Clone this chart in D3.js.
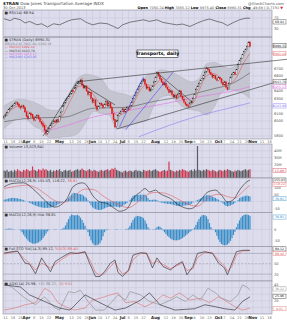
<!DOCTYPE html>
<html>
<head>
<meta charset="utf-8">
<script src="https://cdn.jsdelivr.net/npm/d3@7"></script>
<style>
body { margin: 0; background: #fff; }
svg text { font-family: "DejaVu Sans", sans-serif; }
</style>
</head>
<body>
<svg id="chart" width="287" height="320"></svg>
<script>
// ---- daily price data, 8-Mar-2013 .. 30-Oct-2013 ----
const closes = [
  6060,6080,6110,6150,6170,6190,6210,6230,6240,6220,
  6190,6170,6200,6180,6120,6060,6030,6100,6080,6040,
  6010,6050,6070,6030,5990,5960,5930,5880,5830,5860,
  5900,5940,5970,6000,5980,6010,5990,6060,6120,6200,
  6240,6280,6300,6330,6360,6400,6390,6440,6470,6500,
  6520,6540,6480,6440,6460,6400,6350,6380,6300,6250,
  6280,6200,6150,6190,6230,6210,6180,6220,6260,6200,
  6240,6180,6100,6020,5920,6000,6070,6100,6130,6160,
  6120,6150,6180,6150,6200,6250,6300,6340,6380,6420,
  6460,6500,6530,6550,6490,6430,6450,6400,6420,6460,
  6520,6580,6640,6600,6560,6520,6480,6500,6450,6420,
  6380,6400,6350,6320,6340,6300,6360,6400,6330,6290,
  6250,6220,6200,6190,6240,6260,6300,6350,6420,6460,
  6500,6540,6560,6600,6650,6700,6680,6640,6620,6580,
  6600,6560,6540,6580,6560,6510,6480,6520,6450,6420,
  6500,6580,6620,6640,6620,6680,6750,6800,6830,6880,
  6920,6950,6990,7040,6990
];
const opens = [
  6040,6065,6085,6110,6155,6170,6195,6210,6235,6245,
  6225,6190,6175,6205,6180,6120,6065,6035,6100,6085,
  6040,6015,6050,6075,6030,5990,5965,5935,5880,5835,
  5860,5900,5940,5975,6000,5985,6015,5995,6060,6125,
  6200,6240,6285,6300,6335,6360,6405,6390,6440,6470,
  6505,6520,6545,6480,6440,6460,6400,6350,6380,6300,
  6250,6280,6200,6150,6190,6235,6210,6180,6220,6260,
  6200,6240,6180,6100,6020,5925,6000,6070,6100,6135,
  6160,6120,6150,6180,6150,6200,6250,6300,6340,6380,
  6420,6460,6500,6530,6550,6490,6430,6450,6400,6420,
  6460,6520,6580,6640,6600,6560,6520,6480,6500,6450,
  6420,6380,6400,6350,6320,6340,6300,6360,6400,6330,
  6290,6250,6220,6200,6190,6240,6260,6300,6350,6420,
  6460,6500,6540,6560,6600,6650,6700,6680,6640,6620,
  6580,6600,6560,6540,6580,6560,6510,6480,6520,6450,
  6420,6500,6580,6620,6640,6620,6680,6750,6800,6830,
  6880,6920,6950,6990,7050
];
const highs = [
  6080,6100,6125,6160,6185,6205,6225,6245,6265,6255,
  6235,6200,6215,6215,6190,6130,6080,6115,6120,6095,
  6055,6065,6090,6085,6045,6000,5975,5945,5895,5880,
  5915,5955,5985,6015,6020,6025,6030,6075,6135,6210,
  6255,6295,6320,6345,6375,6415,6420,6455,6485,6515,
  6540,6560,6575,6495,6475,6470,6410,6395,6390,6315,
  6300,6290,6210,6205,6245,6250,6225,6235,6275,6270,
  6255,6250,6190,6105,6030,6015,6085,6115,6145,6175,
  6170,6165,6195,6190,6215,6265,6315,6355,6395,6435,
  6475,6515,6545,6570,6560,6500,6465,6460,6435,6475,
  6535,6595,6655,6650,6610,6570,6530,6515,6510,6460,
  6430,6415,6410,6360,6355,6350,6375,6415,6410,6340,
  6300,6260,6235,6230,6255,6275,6315,6365,6435,6475,
  6515,6555,6575,6615,6665,6720,6710,6690,6655,6630,
  6615,6610,6575,6595,6590,6570,6520,6535,6530,6460,
  6515,6595,6635,6655,6650,6695,6765,6815,6845,6895,
  6935,6965,7005,7060,7065
];
const lows = [
  6020,6050,6070,6100,6140,6160,6180,6200,6215,6205,
  6170,6150,6165,6165,6105,6045,6010,6025,6060,6025,
  5990,6000,6040,6015,5975,5940,5910,5860,5800,5815,
  5845,5890,5930,5960,5965,5975,5975,5990,6055,6115,
  6190,6230,6270,6290,6320,6350,6375,6380,6430,6460,
  6490,6510,6470,6420,6425,6385,6330,6340,6285,6230,
  6235,6180,6130,6140,6180,6195,6165,6170,6210,6185,
  6190,6165,6085,6000,5900,5910,5995,6060,6090,6120,
  6105,6110,6140,6135,6145,6195,6245,6290,6330,6370,
  6410,6450,6490,6520,6475,6415,6420,6385,6390,6410,
  6455,6515,6575,6585,6545,6505,6465,6470,6435,6405,
  6365,6370,6335,6305,6310,6285,6295,6350,6315,6275,
  6235,6205,6185,6170,6185,6230,6255,6295,6345,6410,
  6450,6490,6530,6550,6590,6640,6665,6625,6605,6565,
  6570,6545,6525,6530,6545,6495,6465,6470,6435,6400,
  6415,6495,6570,6610,6605,6615,6675,6745,6790,6825,
  6870,6910,6940,6985,6975
];
// volume, millions of shares
const volumes = [
  11,10,12,9,10,11,9,12,10,13, 11,10,9,12,11,13,12,10,11,17,
  12,11,10,13,12,11,14,12,13,11, 10,12,9,11,10,12,11,13,10,9,
  11,12,10,11,12,9,10,11,12,13, 11,12,14,12,11,10,12,13,11,10,
  12,11,10,9,11,12,10,11,12,13, 11,12,14,13,15,12,11,10,9,8,
  10,11,9,10,11,10,9,11,12,10, 11,10,9,12,11,10,11,12,10,11,
  12,13,11,10,9,10,11,12,10,11, 24,12,11,10,9,11,10,12,11,13,
  12,11,10,9,11,12,10,13,11,47, 12,11,10,12,11,13,12,11,10,12,
  11,10,9,11,12,11,10,12,11,13, 12,11,10,9,11,10,12,11,10,11,
  12,13,11,12,13
];

// ---- overlays, [bar, value] ----
const ma10 = [[0,6080],[5,6150],[10,6200],[15,6140],[20,6060],[25,6020],[30,5900],[35,5960],[40,6100],
  [45,6300],[50,6460],[55,6470],[60,6340],[65,6220],[70,6220],[75,6080],[80,6100],[85,6180],[90,6380],
  [95,6480],[100,6470],[105,6560],[110,6450],[115,6350],[120,6310],[125,6220],[130,6400],[135,6600],
  [140,6630],[145,6560],[150,6490],[155,6580],[160,6780],[164,6900]];
const ma50 = [[0,5990],[20,6040],[40,6050],[60,6170],[80,6180],[100,6260],[120,6330],[140,6430],[150,6480],[164,6640]];
const ma100 = [[25,5860],[35,5900],[60,6054],[85,6147],[110,6241],[130,6321],[150,6388],[164,6455]];
const ma200 = [[90,5790],[110,5940],[130,6070],[150,6170],[164,6241]];
const bollinger = [ // [bar, upper, lower]
  [0,6200,5900],[5,6260,5980],[10,6290,6040],[15,6280,6020],[20,6250,5930],[25,6200,5880],[30,6150,5780],
  [35,6140,5780],[40,6240,5790],[45,6420,5800],[50,6580,5850],[55,6620,6000],[60,6600,6130],[65,6560,6100],
  [70,6420,6080],[75,6380,5900],[80,6360,5900],[85,6330,5960],[90,6470,5980],[95,6600,6000],[100,6640,6200],
  [105,6680,6320],[110,6660,6340],[115,6620,6260],[120,6560,6180],[125,6520,6150],[130,6560,6130],
  [135,6760,6080],[140,6780,6180],[145,6740,6380],[150,6700,6420],[155,6740,6400],[160,6880,6360],[164,7060,6300]];
const trendLines = [ // [bar, price] pairs
  {a:[49,6522], b:[188.7,6820], c:"#333"},
  {a:[75,5893], b:[188.7,6560], c:"#333"},
  {a:[26,5800], b:[49,6530], c:"#333"},
  {a:[49,6522], b:[74,6214], c:"#333"},
  {a:[102,6642], b:[126,6241], c:"#333"},
  {a:[77,5920], b:[93,6589], c:"#4646ff"},
  {a:[81,5880], b:[113,6655], c:"#4646ff"}
];

// ---- indicators, [bar, value] ----
const rsi = [[0,67],[4,60],[7,69],[11,63],[14,51],[17,57],[22,44],[25,48],[29,36],[33,48],[37,44],[42,57],
  [45,63],[51,67],[55,53],[59,44],[64,51],[69,48],[73,38],[76,30],[79,44],[84,54],[89,59],[93,63],[97,57],
  [102,63],[106,53],[111,48],[115,44],[119,47],[124,38],[129,51],[133,60],[137,66],[142,57],[146,51],
  [149,41],[153,53],[157,63],[161,69],[164,69]];
const macd = [[0,106],[6,131],[13,135],[19,94],[25,32],[31,-29],[34,-41],[39,-16],[42,21],[46,106],[52,135],
  [55,118],[59,45],[64,-4],[69,-16],[74,-53],[77,-71],[82,-53],[86,21],[91,69],[94,94],[97,69],[101,82],
  [104,57],[111,21],[117,-29],[124,-53],[127,-41],[131,8],[136,69],[141,82],[145,45],[149,-4],[153,13],
  [157,82],[162,143],[164,155]];
const signal = [[0,94],[7,108],[15,118],[22,95],[28,50],[34,5],[39,-10],[43,8],[48,50],[54,90],[60,85],
  [66,40],[72,0],[78,-30],[83,-45],[88,-15],[94,40],[100,65],[106,62],[112,40],[118,5],[124,-25],[129,-35],
  [134,5],[139,45],[144,52],[149,35],[154,25],[159,70],[164,118]];
const macdHist = [
  12,15,18,21,24,26,26,25,24,22, 20,17,14,10,5,0,-5,-10,-15,-20,
  -25,-30,-34,-38,-41,-43,-45,-46,-46,-46, -45,-44,-42,-38,-34,-28,-22,-16,-10,-4,
  2,8,16,26,38,50,60,62,60,57, 54,52,50,42,33,24,8,-10,-27,-43,
  -50,-55,-59,-62,-62,-60,-55,-50,-45,-41, -40,-39,-38,-37,-37,-38,-40,-44,-40,-32,
  -24,-18,-12,0,12,26,41,44,46,48, 49,49,49,49,49,40,25,11,11,12,
  13,13,10,4,-6,-9,-11,-13,-15,-17, -18,-19,-22,-25,-28,-31,-33,-34,-33,-31,
  -30,-28,-27,-26,-25,-16,-8,0,5,10, 16,21,27,34,40,45,47,44,40,35,
  30,25,18,12,5,-5,-15,-25,-32,-36, -33,-29,-24,-19,-10,0,10,24,29,34,
  38,41,43,40,37
];
const histPanel = [
  0,2,3,4,4,3,2,1,0,0,-1,
  -4,-12,-22,-32,-41,-49,-55,-59,-62,-63,-62,-60,-57,-52,-46,-38,-28,-18,-8,
  -3,0,0,1,2,1,0,0,2,4,8,
  18,32,46,58,66,64,62,63,65,60,52,42,30,16,
  3,-12,-30,-48,-60,-67,-70,-69,-66,-60,-48,-30,-12,
  -4,-2,-1,0,0,0,-1,-2,-1,0,1,0,0,2,3,6,
  16,30,42,52,58,60,59,57,55,50,40,26,10,
  3,0,1,2,4,
  10,14,12,6,
  -4,-12,-20,-28,-34,-40,-44,-47,-48,-48,-47,-45,-42,-38,-33,-27,-22,-16,-10,-5,-2,
  8,20,34,46,56,62,64,63,58,46,28,
  10,2,-1,
  -12,-28,-44,-56,-64,-68,-70,-69,-66,-60,-50,-38,-24,-10,
  10,26,40,52,60,64,66,66,64,60
];
const stochK = [[0,81],[4,84],[9,87],[14,52],[17,49],[21,21],[25,67],[31,27],[34,56],[39,70],[44,82],[49,80],
  [54,85],[57,52],[61,13],[64,13],[67,27],[71,52],[74,61],[76,25],[79,13],[83,32],[86,75],[91,82],[95,80],
  [99,38],[102,67],[106,42],[111,32],[115,47],[119,56],[122,18],[126,42],[129,80],[134,85],[139,80],[143,52],
  [147,38],[149,18],[152,52],[155,85],[159,89],[164,89]];
const stochD = [[0,78],[4,82],[9,86],[14,62],[17,52],[21,32],[25,52],[31,38],[34,48],[39,64],[44,78],[49,80],
  [54,83],[57,62],[61,25],[64,16],[67,22],[71,42],[74,55],[76,38],[79,20],[83,28],[86,62],[91,80],[95,81],
  [99,50],[102,58],[106,48],[111,36],[115,44],[119,52],[122,30],[126,36],[129,68],[134,83],[139,82],[143,60],
  [147,44],[149,28],[152,42],[155,75],[159,87],[164,88]];
const adx = [[0,44],[11,41],[17,29],[27,19],[37,9],[44,6],[54,29],[64,17],[74,6],[81,9],[91,21],[97,32],
  [104,14],[114,6],[127,8],[134,14],[141,11],[147,8],[154,6],[159,19],[164,26]];
const plusDI = [[0,46],[5,41],[14,24],[21,14],[27,26],[34,9],[37,6],[43,34],[47,32],[51,36],[56,19],[61,6],
  [67,6],[76,29],[81,21],[84,34],[91,29],[97,19],[104,14],[111,21],[115,26],[121,19],[126,29],[131,21],
  [136,39],[141,32],[145,24],[151,19],[156,29],[159,44],[162,41],[164,36]];
const minusDI = [[0,6],[7,9],[14,14],[21,17],[27,39],[31,34],[36,17],[41,11],[47,6],[54,9],[59,21],[64,24],
  [71,29],[76,32],[81,17],[87,19],[94,11],[101,19],[106,29],[111,24],[117,32],[124,21],[131,24],[137,17],
  [143,26],[147,21],[154,11],[159,6],[164,9]];

const priceTicks = [5800,5900,6000,6100,6200,6300,6400,6500,6600,6700,6800,6900,7000];
const holidays = ["2013-03-29","2013-05-27","2013-07-04","2013-09-02","2013-11-28"];
const monthNames = ["Jan","Feb","Mar","Apr","May","Jun","Jul","Aug","Sep","Oct","Nov","Dec"];

// ---- layout ----
const svg = d3.select("#chart");
const L = 3, R = 272;
const BG = "#dcdcec", GRID = "#c6c6da", BORDER = "#8a8a9a";
const RED = "#e01818", BLUE = "#3a8ec8";
const x = d3.scaleLinear().domain([-0.7, 178.7]).range([L, R]);

// trading days for the axis
const days = [];
for (let d = new Date(Date.UTC(2013, 2, 8)); days.length < 180; d.setUTCDate(d.getUTCDate() + 1)) {
  const wd = d.getUTCDay(), iso = d.toISOString().slice(0, 10);
  if (wd === 0 || wd === 6 || holidays.includes(iso)) continue;
  days.push(new Date(d));
}
const allTicks = [];
days.forEach((d, i) => {
  if (i === 0 || x(i) > R - 2) return;
  const prev = days[i - 1];
  if (d.getUTCMonth() !== prev.getUTCMonth()) allTicks.push({i, label: monthNames[d.getUTCMonth()], month: true});
  else if (d.getUTCDay() < prev.getUTCDay() || (d - prev) > 3 * 864e5) allTicks.push({i, label: String(d.getUTCDate()), month: false});
});
// drop weekly labels that sit too close to a month label
const weekTicks = allTicks.filter(t => t.month || !allTicks.some(m => m.month && Math.abs(m.i - t.i) < 4));

function panel(top, bottom, domain, hLines) {
  const y = d3.scaleLinear().domain(domain).range([bottom, top]);
  const g = svg.append("g");
  g.append("rect").attr("x", L).attr("y", top).attr("width", R - L).attr("height", bottom - top)
    .attr("fill", BG);
  g.selectAll(".vg").data(weekTicks).join("line")
    .attr("x1", d => x(d.i)).attr("x2", d => x(d.i)).attr("y1", top).attr("y2", bottom)
    .attr("stroke", GRID).attr("stroke-width", 0.5);
  g.selectAll(".hg").data(hLines || []).join("line")
    .attr("x1", L).attr("x2", R).attr("y1", d => y(d)).attr("y2", d => y(d))
    .attr("stroke", GRID).attr("stroke-width", 0.5);
  const id = "clip" + Math.round(top);
  svg.append("clipPath").attr("id", id).append("rect")
    .attr("x", L).attr("y", top).attr("width", R - L).attr("height", bottom - top);
  const inner = svg.append("g").attr("clip-path", `url(#${id})`);
  const frame = () => svg.append("rect").attr("x", L).attr("y", top).attr("width", R - L)
    .attr("height", bottom - top).attr("fill", "none").attr("stroke", BORDER).attr("stroke-width", 0.6);
  return {y, g, inner, frame, top, bottom};
}

function rightLabels(p, vals, fmt) {
  svg.append("g").selectAll("text").data(vals).join("text")
    .attr("x", R + 2).attr("y", d => p.y(d) + 1.4).attr("font-size", 3.6).attr("fill", "#555")
    .text(fmt || (d => d));
}
function valueBox(yPos, txt, color) {
  const g = svg.append("g");
  g.append("rect").attr("x", R + 1).attr("y", yPos - 2.1).attr("width", 13).attr("height", 4.2)
    .attr("fill", "#fff").attr("stroke", color).attr("stroke-width", 0.4);
  g.append("text").attr("x", R + 7.5).attr("y", yPos + 1.2).attr("text-anchor", "middle")
    .attr("font-size", 3.1).attr("fill", color).text(txt);
}
function legend(p, items, dy) {
  const t = svg.append("text").attr("x", L + 1.5).attr("y", p.top + (dy || 3.8)).attr("font-size", 3.6);
  items.forEach(([s, c]) => t.append("tspan").attr("fill", c).text(s));
}
const line = (y, curve) => d3.line().x(d => x(d[0])).y(d => y(d[1])).curve(curve || d3.curveLinear);
function dateRow(yPos) {
  svg.append("g").selectAll("text").data(weekTicks).join("text")
    .attr("x", d => x(d.i)).attr("y", yPos).attr("text-anchor", "middle")
    .attr("font-size", d => d.month ? 4 : 3.5).attr("font-weight", d => d.month ? "bold" : "normal")
    .attr("fill", d => d.month ? "#222" : "#666").text(d => d.label);
}

// ---- header ----
const h1 = svg.append("text").attr("x", 3).attr("y", 4.5).attr("font-size", 4.2);
h1.append("tspan").attr("font-weight", "bold").attr("fill", "#222").text("$TRAN ");
h1.append("tspan").attr("fill", "#444").text("Dow Jones Transportation Average  INDX");
svg.append("text").attr("x", 3).attr("y", 8.8).attr("font-size", 3.6).attr("fill", "#555").text("30-Oct-2013");
svg.append("text").attr("x", 284).attr("y", 4.5).attr("text-anchor", "end").attr("font-size", 3.8)
  .attr("fill", "#555").text("@StockCharts.com");
const h2 = svg.append("text").attr("x", 283).attr("y", 8.8).attr("text-anchor", "end").attr("font-size", 3.5);
[["Open ", "#000", "bold"], ["7050.24 ", "#555"], ["High ", "#000", "bold"], ["7065.12 ", "#555"],
 ["Low ", "#000", "bold"], ["6975.40 ", "#555"], ["Close ", "#000", "bold"], ["6990.31 ", "#555"],
 ["Chg ", "#000", "bold"], ["-49.69 (-0.71%) ", "#555"], ["\u25BC", RED]]
  .forEach(([s, c, w]) => h2.append("tspan").attr("fill", c).attr("font-weight", w || "normal").text(s));

// ---- RSI ----
const pRsi = panel(10, 36.5, [0, 100], [30, 70]);
pRsi.inner.append("path").attr("d", line(pRsi.y)(rsi)).attr("fill", "none").attr("stroke", "#333").attr("stroke-width", 0.6);
pRsi.frame();
legend(pRsi, [["\u25A0 RSI(14) 68.94", "#333"]]);
rightLabels(pRsi, [70, 30]);
valueBox(pRsi.y(55), "68.94", "#333");

// ---- price ----
const pPx = panel(37.5, 139, [5760, 7110], priceTicks);
const yp = pPx.y;
pPx.inner.append("path")
  .attr("d", d3.area().x(d => x(d[0])).y0(d => yp(d[2])).y1(d => yp(d[1])).curve(d3.curveMonotoneX)(bollinger))
  .attr("fill", "#bdbdc8").attr("opacity", 0.75);
pPx.inner.append("path").attr("d", line(yp, d3.curveMonotoneX)(bollinger.map(d => [d[0], d[1]])))
  .attr("fill", "none").attr("stroke", "#a8a8b4").attr("stroke-width", 0.4);
pPx.inner.append("path").attr("d", line(yp, d3.curveMonotoneX)(bollinger.map(d => [d[0], d[2]])))
  .attr("fill", "none").attr("stroke", "#a8a8b4").attr("stroke-width", 0.4);
[[ma200, "#8a7cf0"], [ma100, "#e070e0"], [ma50, "#555"], [ma10, "#e05a5a"]].forEach(([s, c]) =>
  pPx.inner.append("path").attr("d", line(yp, d3.curveMonotoneX)(s)).attr("fill", "none")
    .attr("stroke", c).attr("stroke-width", 0.6));
svg.append("g").selectAll("line").data(trendLines).join("line")
  .attr("x1", d => x(d.a[0])).attr("y1", d => yp(d.a[1])).attr("x2", d => x(d.b[0])).attr("y2", d => yp(d.b[1]))
  .attr("stroke", d => d.c).attr("stroke-width", 0.6);
const candles = pPx.inner.append("g").selectAll("g").data(closes.map((c, i) => i)).join("g");
const cColor = i => (i > 0 && closes[i] < closes[i - 1]) ? RED : "#222";
candles.append("line").attr("x1", i => x(i)).attr("x2", i => x(i))
  .attr("y1", i => yp(highs[i])).attr("y2", i => yp(lows[i])).attr("stroke", cColor).attr("stroke-width", 0.45);
candles.append("rect").attr("x", i => x(i) - 0.55).attr("width", 1.1)
  .attr("y", i => yp(Math.max(opens[i], closes[i])))
  .attr("height", i => Math.max(0.6, Math.abs(yp(opens[i]) - yp(closes[i]))))
  .attr("fill", i => closes[i] < opens[i] ? cColor(i) : "#fff").attr("stroke", cColor).attr("stroke-width", 0.3);
pPx.frame();
// annotation
svg.append("rect").attr("x", 137).attr("y", 50).attr("width", 41).attr("height", 7.5)
  .attr("fill", "#fff").attr("stroke", "#000").attr("stroke-width", 0.5);
svg.append("text").attr("x", 157.5).attr("y", 55.2).attr("text-anchor", "middle").attr("font-size", 4.6)
  .attr("font-weight", "bold").attr("fill", "#000").text("Transports, daily");
legend(pPx, [["\u25A0 $TRAN (Daily) 6990.31", "#333"]]);
[["BB(20,2.0) 7061.40, 6302.18", "#888"], ["\u2014 MA(10) 6902.44", "#e05a5a"], ["\u2014 MA(50) 6643.70", "#444"],
 ["\u2014 MA(100) 6455.17", "#e070e0"], ["\u2014 MA(200) 6243.95", "#7a6cf0"]]
  .forEach(([s, c], k) => svg.append("text").attr("x", L + 2).attr("y", pPx.top + 7.3 + k * 3.4)
    .attr("font-size", 3.2).attr("fill", c).text(s));
rightLabels(pPx, [5800, 6000, 6100, 6300, 6400, 6600, 6700]);
valueBox(yp(7000), "6990.31", "#222");
valueBox(yp(6895), "6902.44", "#e05a5a");
valueBox(yp(6520), "6643.70", "#444");
valueBox(yp(6455), "6455.17", "#d060d0");
valueBox(yp(6200), "6243.95", "#7a6cf0");

dateRow(142.6);

// ---- volume ----
const pVol = panel(144, 178, [0, 50], [10, 20, 30, 40]);
const bw = 1.2;
pVol.inner.selectAll("rect.v").data(volumes).join("rect")
  .attr("x", (d, i) => x(i) - bw / 2).attr("width", bw)
  .attr("y", d => pVol.y(d)).attr("height", d => pVol.y(0) - pVol.y(d))
  .attr("fill", (d, i) => (i > 0 && closes[i] < closes[i - 1]) ? "#d0384f" : "#5a5a60");
pVol.frame();
legend(pVol, [["\u25A0 Volume 13,023,841", "#333"]]);
rightLabels(pVol, [40, 30, 20], d => d + "M");
valueBox(pVol.y(11), "13.0M", "#d0384f");

// ---- MACD ----
const pMacd = panel(178, 212.5, [-80, 170], [0, 100]);
pMacd.inner.selectAll("rect.h").data(macdHist).join("rect")
  .attr("x", (d, i) => x(i) - 0.55).attr("width", 1.1)
  .attr("y", d => pMacd.y(Math.max(0, d))).attr("height", d => Math.abs(pMacd.y(d) - pMacd.y(0)))
  .attr("fill", BLUE);
pMacd.inner.append("path").attr("d", line(pMacd.y, d3.curveMonotoneX)(signal)).attr("fill", "none")
  .attr("stroke", "#e06060").attr("stroke-width", 0.6);
pMacd.inner.append("path").attr("d", line(pMacd.y, d3.curveMonotoneX)(macd)).attr("fill", "none")
  .attr("stroke", "#222").attr("stroke-width", 0.6);
pMacd.frame();
legend(pMacd, [["\u25A0 MACD(12,26,9) 155.03, 118.22, ", "#333"], ["36.81", "#e06060"]]);
rightLabels(pMacd, [100, 50, -50]);
valueBox(pMacd.y(155), "155.03", "#222");
valueBox(pMacd.y(125), "118.22", "#e06060");
valueBox(pMacd.y(20), "36.81", BLUE);

// ---- MACD histogram ----
const pHist = panel(212.5, 246.5, [-75, 75], [0]);
pHist.inner.selectAll("rect.h").data(histPanel).join("rect")
  .attr("x", (d, i) => x(i) - 0.6).attr("width", 1.2)
  .attr("y", d => pHist.y(Math.max(0, d))).attr("height", d => Math.abs(pHist.y(d) - pHist.y(0)))
  .attr("fill", BLUE);
pHist.frame();
legend(pHist, [["\u25A0 MACD(12,26,9) Hist 36.81", "#333"]]);
rightLabels(pHist, [0, -50]);
valueBox(pHist.y(55), "36.81", BLUE);

// ---- Full stochastics ----
const pSto = panel(246.5, 281, [0, 100], []);
[[80, null], [20, null], [50, "2,1.5"]].forEach(([v, dash]) =>
  pSto.g.append("line").attr("x1", L).attr("x2", R).attr("y1", pSto.y(v)).attr("y2", pSto.y(v))
    .attr("stroke", "#8a8aa0").attr("stroke-width", 0.5).attr("stroke-dasharray", dash));
pSto.inner.append("path").attr("d", line(pSto.y)(stochD)).attr("fill", "none")
  .attr("stroke", "#e06060").attr("stroke-width", 0.6);
pSto.inner.append("path").attr("d", line(pSto.y)(stochK)).attr("fill", "none")
  .attr("stroke", "#222").attr("stroke-width", 0.6);
pSto.frame();
legend(pSto, [["\u25A0 Full STO %K(14,3) 89.12, ", "#333"], ["%D(3) 88.40", "#e06060"]]);
rightLabels(pSto, [50, 20]);
valueBox(pSto.y(93), "89.12", "#222");
valueBox(pSto.y(80), "88.40", "#e06060");

// ---- ADX / DMI ----
const pAdx = panel(281, 314, [0, 50], [10, 20, 30, 40]);
[[minusDI, "#d87070"], [plusDI, "#8a8a8a"], [adx, "#222"]].forEach(([s, c]) =>
  pAdx.inner.append("path").attr("d", line(pAdx.y)(s)).attr("fill", "none")
    .attr("stroke", c).attr("stroke-width", 0.6));
pAdx.frame();
legend(pAdx, [["\u25A0 ADX(14) 25.96, ", "#333"], ["+DI 36.22, ", "#888"], ["-DI 9.01", "#d87070"]]);
rightLabels(pAdx, [45, 20]);
valueBox(pAdx.y(38), "36.22", "#888");
valueBox(pAdx.y(27), "25.96", "#222");
valueBox(pAdx.y(8), "9.01", "#d87070");

dateRow(318.6);
</script>
</body>
</html>
